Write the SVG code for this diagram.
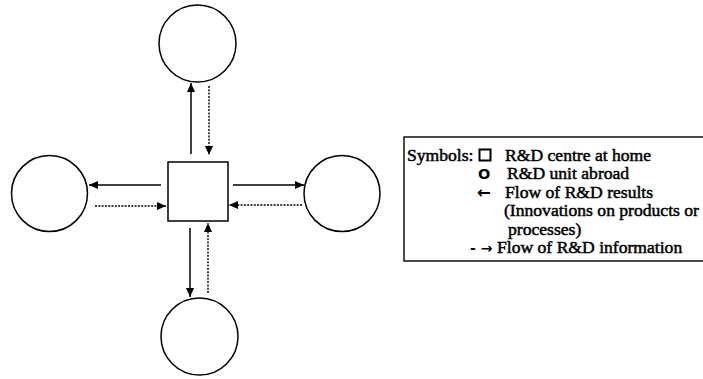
<svg xmlns="http://www.w3.org/2000/svg" width="703" height="379" viewBox="0 0 703 379">
<style>
.node{fill:#fff;stroke:#000;stroke-width:1.5}
.solid{fill:none;stroke:#000;stroke-width:1.5}
.dash{fill:none;stroke:#000;stroke-width:1.4;stroke-dasharray:2 1.3}
.t{font-family:"Liberation Serif","Times New Roman",serif;font-size:17.6px;fill:#000;stroke:#000;stroke-width:0.5}
.sym{font-family:"DejaVu Sans",sans-serif;font-weight:bold;fill:#000}
</style>
<defs>
<marker id="ah" markerUnits="userSpaceOnUse" markerWidth="10" markerHeight="10" refX="9" refY="4" orient="auto">
<path d="M0,0 L9,4 L0,8 Z" fill="#000"/>
</marker>
</defs>
<rect width="703" height="379" fill="#fff"/>
<g id="home"><rect class="node" x="168" y="162" width="60" height="59"/></g>
<g id="unit-top"><circle class="node" cx="197.5" cy="43.5" r="38.5"/></g>
<g id="unit-left"><circle class="node" cx="49.5" cy="193.5" r="38"/></g>
<g id="unit-right"><circle class="node" cx="342" cy="193.5" r="38"/></g>
<g id="unit-bottom"><circle class="node" cx="199.5" cy="336.5" r="38.5"/></g>
<g id="connectors">
<line class="solid" x1="191" y1="154" x2="191" y2="83" marker-end="url(#ah)"/>
<line class="dash" x1="209" y1="86" x2="209" y2="155" marker-end="url(#ah)"/>
<line class="solid" x1="161" y1="185" x2="89" y2="185" marker-end="url(#ah)"/>
<line class="dash" x1="95" y1="206" x2="166" y2="206" marker-end="url(#ah)"/>
<line class="solid" x1="233" y1="185" x2="304" y2="185" marker-end="url(#ah)"/>
<line class="dash" x1="302" y1="205" x2="229" y2="205" marker-end="url(#ah)"/>
<line class="solid" x1="190" y1="228" x2="190" y2="297" marker-end="url(#ah)"/>
<line class="dash" x1="208" y1="293" x2="208" y2="223" marker-end="url(#ah)"/>
</g>
<g id="legend">
<rect x="404" y="137" width="310" height="124" fill="none" stroke="#000" stroke-width="1.4"/>
<text class="t" x="407" y="161">Symbols:</text>
<rect x="479.5" y="149.5" width="11" height="11" fill="none" stroke="#000" stroke-width="2"/>
<text class="t" x="505" y="161">R&amp;D centre at home</text>
<text class="sym" x="478" y="178.6" font-size="14.5">O</text>
<text class="t" x="507" y="179.4">R&amp;D unit abroad</text>
<text class="sym" x="477" y="198" font-size="16.5">←</text>
<text class="t" x="505" y="197.8">Flow of R&amp;D results</text>
<text class="t" x="504" y="216.2">(Innovations on products or</text>
<text class="t" x="508" y="234.6">processes)</text>
<text class="sym" x="470" y="253" font-size="14">- →</text>
<text class="t" x="497" y="253">Flow of R&amp;D information</text>
</g>
</svg>
